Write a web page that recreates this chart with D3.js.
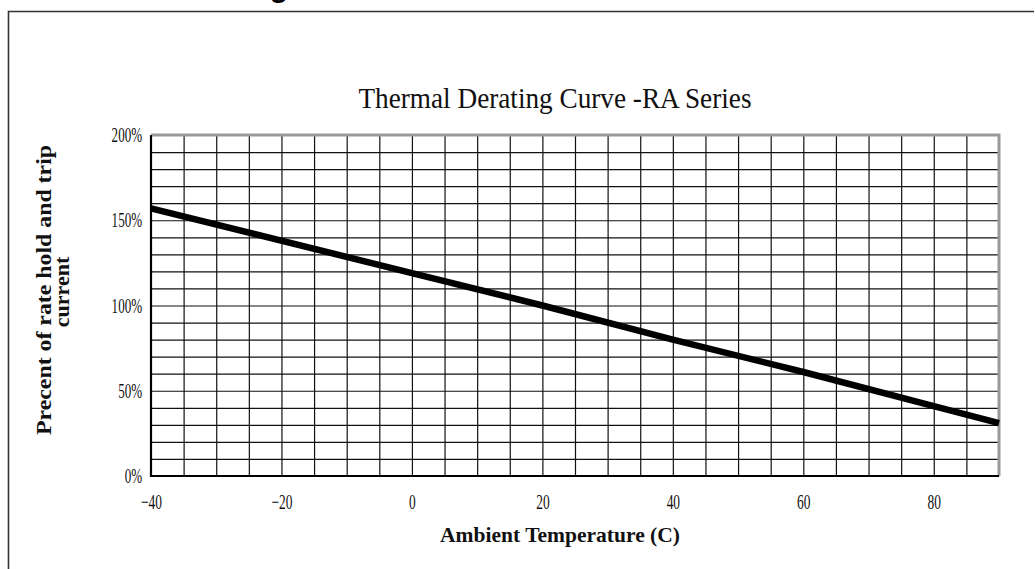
<!DOCTYPE html>
<html><head><meta charset="utf-8">
<script src="https://cdn.jsdelivr.net/npm/d3@7"></script>
<style>
html,body{margin:0;padding:0;background:#fff;}
svg{display:block;}
</style></head>
<body>
<svg id="c" width="1035" height="569"></svg>
<script>
// ---- data ----
const temps = [-40, 0, 20, 40, 60, 80, 90];
const percents = [157, 119, 100, 80, 61, 41, 31];
const xTicks = [-40, -20, 0, 20, 40, 60, 80];
const yTicks = [0, 50, 100, 150, 200];
const xGrid = d3.range(-35, 90, 5);
const yGrid = d3.range(10, 200, 10);
const titleText = "Thermal Derating Curve -RA Series";
const xTitle = "Ambient Temperature (C)";
const yTitle1 = "Precent of rate hold and trip";
const yTitle2 = "current";

const svg = d3.select("#c");
const L = 151, R = 999, T = 135, B = 476;
const x = d3.scaleLinear().domain([-40, 90]).range([L, R]);
const y = d3.scaleLinear().domain([0, 200]).range([B, T]);

// heading remnant cut off at top
svg.append("text").attr("x", 288).attr("y", -3).attr("text-anchor", "end")
  .attr("font-family", "Liberation Sans, Arial, sans-serif").attr("font-weight", "bold")
  .attr("font-size", 30).attr("fill", "#000").text("g");

// outer frame
svg.append("path").attr("d", `M8.5,569 L8.5,11.5 L1034,11.5`)
  .attr("fill", "none").attr("stroke", "#333").attr("stroke-width", 1.6);

const serif = "Liberation Serif, Times New Roman, serif";
function condense(sel, f) {
  sel.each(function(){ const w = this.getComputedTextLength(); d3.select(this).attr("textLength", w*f).attr("lengthAdjust","spacingAndGlyphs"); });
}

// grid
const gx = svg.append("g").attr("transform", `translate(0,${B})`)
  .call(d3.axisBottom(x).tickValues(xGrid).tickSize(-(B - T)).tickFormat(""));
gx.select(".domain").remove();
gx.selectAll("line").attr("stroke", "#111").attr("stroke-width", 1.2);
const gy = svg.append("g").attr("transform", `translate(${L},0)`)
  .call(d3.axisLeft(y).tickValues(yGrid).tickSize(-(R - L)).tickFormat(""));
gy.select(".domain").remove();
gy.selectAll("line").attr("stroke", "#111").attr("stroke-width", 1.2);

// top & right border (grey)
svg.append("path").attr("d", `M${L},${T} L${R},${T} L${R},${B}`)
  .attr("fill", "none").attr("stroke", "#999").attr("stroke-width", 3);
// left & bottom axes (black)
svg.append("path").attr("d", `M${L},${T} L${L},${B} L${R},${B}`)
  .attr("fill", "none").attr("stroke", "#000").attr("stroke-width", 2.2);

// axis labels
const ax = svg.append("g").attr("transform", `translate(0,${B})`)
  .call(d3.axisBottom(x).tickValues(xTicks).tickSize(0).tickPadding(18));
ax.select(".domain").remove();
ax.selectAll("text").attr("font-family", serif).attr("font-size", 21).attr("fill", "#111")
  .style("font-size", "21px").call(condense, 0.64);

const ay = svg.append("g").attr("transform", `translate(${L},0)`)
  .call(d3.axisLeft(y).tickValues(yTicks).tickSize(0).tickPadding(9).tickFormat(d => d + "%"));
ay.select(".domain").remove();
ay.selectAll("text").attr("font-family", serif).attr("font-size", 21).attr("fill", "#111")
  .style("font-size", "21px").call(condense, 0.62);

// curve
svg.append("path").datum(temps.map((t, i) => [t, percents[i]]))
  .attr("d", d3.line().x(d => x(d[0])).y(d => y(d[1])))
  .attr("fill", "none").attr("stroke", "#000").attr("stroke-width", 6.5).attr("stroke-linecap", "butt");

// titles
svg.append("text").attr("x", 555).attr("y", 108).attr("text-anchor", "middle")
  .attr("font-family", serif).attr("font-size", 30).attr("fill", "#111")
  .attr("textLength", 393).attr("lengthAdjust", "spacingAndGlyphs").text(titleText);

svg.append("text").attr("x", 560).attr("y", 542).attr("text-anchor", "middle")
  .attr("font-family", serif).attr("font-weight", "bold").attr("font-size", 22).attr("fill", "#111")
  .attr("textLength", 240).attr("lengthAdjust", "spacingAndGlyphs").text(xTitle);

svg.append("text").attr("transform", "translate(51,290) rotate(-90)").attr("text-anchor", "middle")
  .attr("font-family", serif).attr("font-weight", "bold").attr("font-size", 22).attr("fill", "#111")
  .attr("textLength", 290).attr("lengthAdjust", "spacingAndGlyphs").text(yTitle1);
svg.append("text").attr("transform", "translate(69,292) rotate(-90)").attr("text-anchor", "middle")
  .attr("font-family", serif).attr("font-weight", "bold").attr("font-size", 22).attr("fill", "#111")
  .text(yTitle2);
</script>
</body></html>
